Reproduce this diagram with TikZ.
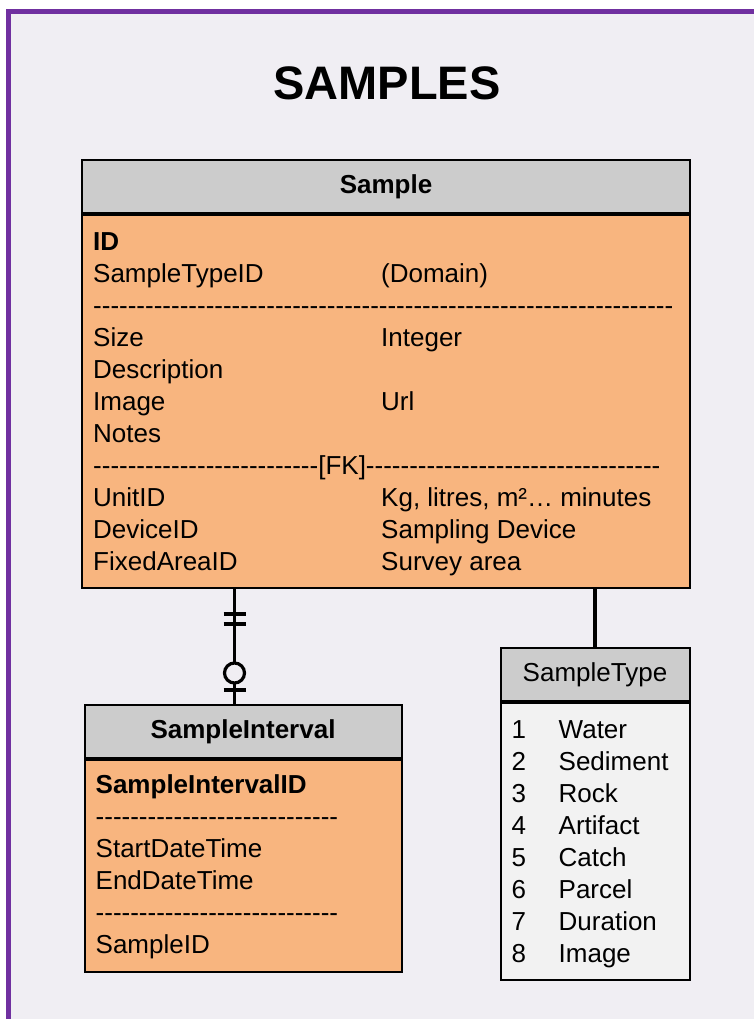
\documentclass[tikz,border=0pt]{standalone}
\usepackage{fontspec}
\setmainfont{Liberation Sans}
\usepackage{xcolor}
\usepackage{tikz}
\usetikzlibrary{positioning,calc}

\definecolor{pagebg}{HTML}{F0EEF3}
\definecolor{framepurple}{HTML}{7030A0}
\definecolor{headgray}{HTML}{CCCCCC}
\definecolor{rowsorange}{HTML}{F8B57F}
\definecolor{domaingray}{HTML}{F2F2F2}

\newcommand\dashfill[1]{\foreach\k in {1,...,#1}{-\kern0pt}}

\tikzset{
    tblhead/.style={draw, line width=2pt, fill=headgray, inner sep=0pt,
        font=\fontsize{26}{32}\selectfont},
    tblbody/.style={draw, line width=2pt, fill=rowsorange, inner sep=0pt},
    fieldtext/.style={inner sep=0pt, anchor=north west, align=left,
        font=\fontsize{26}{32}\selectfont},
    link/.style={line width=3.2pt}
}

\begin{document}
\begin{tikzpicture}[x=1pt, y=-1pt]
    \useasboundingbox (0,0) rectangle (754,1019);
    \fill[pagebg] (8.5,11.5) rectangle (754,1019);
    \draw[framepurple, line width=5pt] (8.5,1019) -- (8.5,11.5) -- (754,11.5);

    \node[font=\bfseries\fontsize{47}{56}\selectfont] (title) at (387,83) {SAMPLES};

    % Sample table
    \node[tblhead, minimum width=608pt, minimum height=53pt] (samplehead) at (386,186.5) {\bfseries Sample};
    \node[tblbody, minimum width=608pt, minimum height=373pt, anchor=north] (samplebody) at (samplehead.south) {};
    \node[fieldtext] (samplefields) at ([xshift=12pt,yshift=-14pt]samplebody.north west) {%
        \begin{tabular}{@{}p{288pt}@{}l@{}}
        \textbf{ID} & \\
        SampleTypeID & (Domain)\\
        \multicolumn{2}{@{}l@{}}{\dashfill{67}}\\
        Size & Integer\\
        Description & \\
        Image & Url\\
        Notes & \\
        \multicolumn{2}{@{}l@{}}{\dashfill{26}[FK]\dashfill{34}}\\
        UnitID & Kg, litres, m²… minutes\\
        DeviceID & Sampling Device\\
        FixedAreaID & Survey area
        \end{tabular}};

    % SampleInterval table
    \node[tblhead, minimum width=317pt, minimum height=53pt] (intervalhead) at (243,731.5) {\bfseries SampleInterval};
    \node[tblbody, minimum width=317pt, minimum height=212pt, anchor=north] (intervalbody) at (intervalhead.south) {};
    \node[fieldtext] (intervalfields) at ([xshift=12pt,yshift=-12pt]intervalbody.north west) {%
        \begin{tabular}{@{}l@{}}
        \textbf{SampleIntervalID}\\
        \dashfill{28}\\
        StartDateTime\\
        EndDateTime\\
        \dashfill{28}\\
        SampleID
        \end{tabular}};

    % SampleType domain
    \node[tblhead, minimum width=189pt, minimum height=53pt] (typehead) at (595,674.5) {SampleType};
    \node[tblbody, fill=domaingray, minimum width=189pt, minimum height=277pt, anchor=north] (typebody) at (typehead.south) {};
    \node[fieldtext] (typefields) at ([xshift=12pt,yshift=-14pt]typebody.north west) {%
        \begin{tabular}{@{}p{47pt}@{}l@{}}
        1 & Water\\
        2 & Sediment\\
        3 & Rock\\
        4 & Artifact\\
        5 & Catch\\
        6 & Parcel\\
        7 & Duration\\
        8 & Image
        \end{tabular}};

    % links
    \coordinate (oneend) at ($(samplebody.south west)+(153.5,0)$);
    \coordinate (zeroend) at (oneend |- intervalhead.north);
    \draw[link] (oneend) -- (zeroend);
    \draw[link] ($(oneend)+(-11,25)$) -- ++(22,0);
    \draw[link] ($(oneend)+(-11,35)$) -- ++(22,0);
    \node[circle, draw, link, fill=pagebg, minimum size=20pt, inner sep=0pt] (zeromark) at ($(oneend)+(0,84)$) {};
    \draw[link] ($(zeroend)+(-11,-14)$) -- ++(22,0);

    \draw[link] (typehead.north |- samplebody.south) -- (typehead.north);
\end{tikzpicture}
\end{document}
